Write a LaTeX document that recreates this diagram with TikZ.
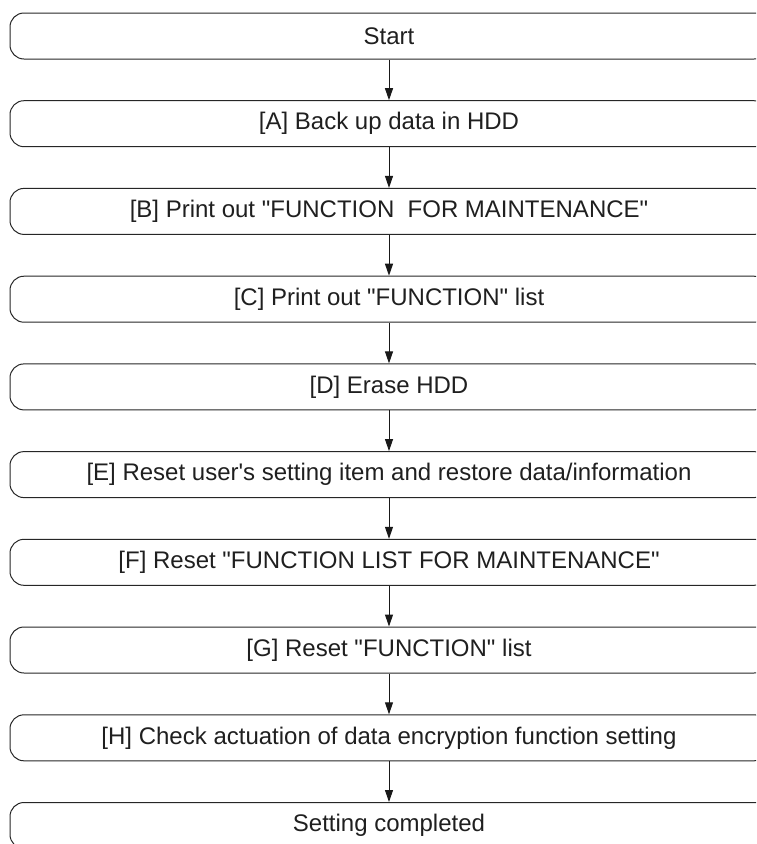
\documentclass[tikz,border=0pt]{standalone}
\usepackage{fontspec}
\newfontfamily\lab{Liberation Sans}
\usetikzlibrary{arrows.meta}
\begin{document}
\begin{tikzpicture}[x=1pt,y=-1pt,
  stepbox/.style={draw=black!85, line width=1pt, rounded corners=14pt,
    minimum width=758pt, minimum height=46pt, inner sep=0pt,
    font=\lab\fontsize{24}{28}\selectfont, text=black!88},
  conn/.style={-{Triangle[length=12pt,width=8pt]}, line width=1pt, draw=black!90}]
\useasboundingbox (0,0) rectangle (756,844);
\clip (0,0) rectangle (756,844);
\node[stepbox] (s0) at (389,36) {Start};
\node[stepbox] (s1) at (389,123.7) {[A] Back up data in HDD};
\node[stepbox] (s2) at (389,211.4) {[B] Print out "FUNCTION\ \ FOR MAINTENANCE"};
\node[stepbox] (s3) at (389,299.2) {[C] Print out "FUNCTION" list};
\node[stepbox] (s4) at (389,386.9) {[D] Erase HDD};
\node[stepbox] (s5) at (389,474.6) {[E] Reset user's setting item and restore data/information};
\node[stepbox] (s6) at (389,562.3) {[F] Reset "FUNCTION LIST FOR MAINTENANCE"};
\node[stepbox] (s7) at (389,650.0) {[G] Reset "FUNCTION" list};
\node[stepbox] (s8) at (389,737.8) {[H] Check actuation of data encryption function setting};
\node[stepbox] (s9) at (389,825.5) {Setting completed};
\foreach \a/\b in {s0/s1,s1/s2,s2/s3,s3/s4,s4/s5,s5/s6,s6/s7,s7/s8,s8/s9}
  \draw[conn] (\a) -- (\b);
\end{tikzpicture}
\end{document}
